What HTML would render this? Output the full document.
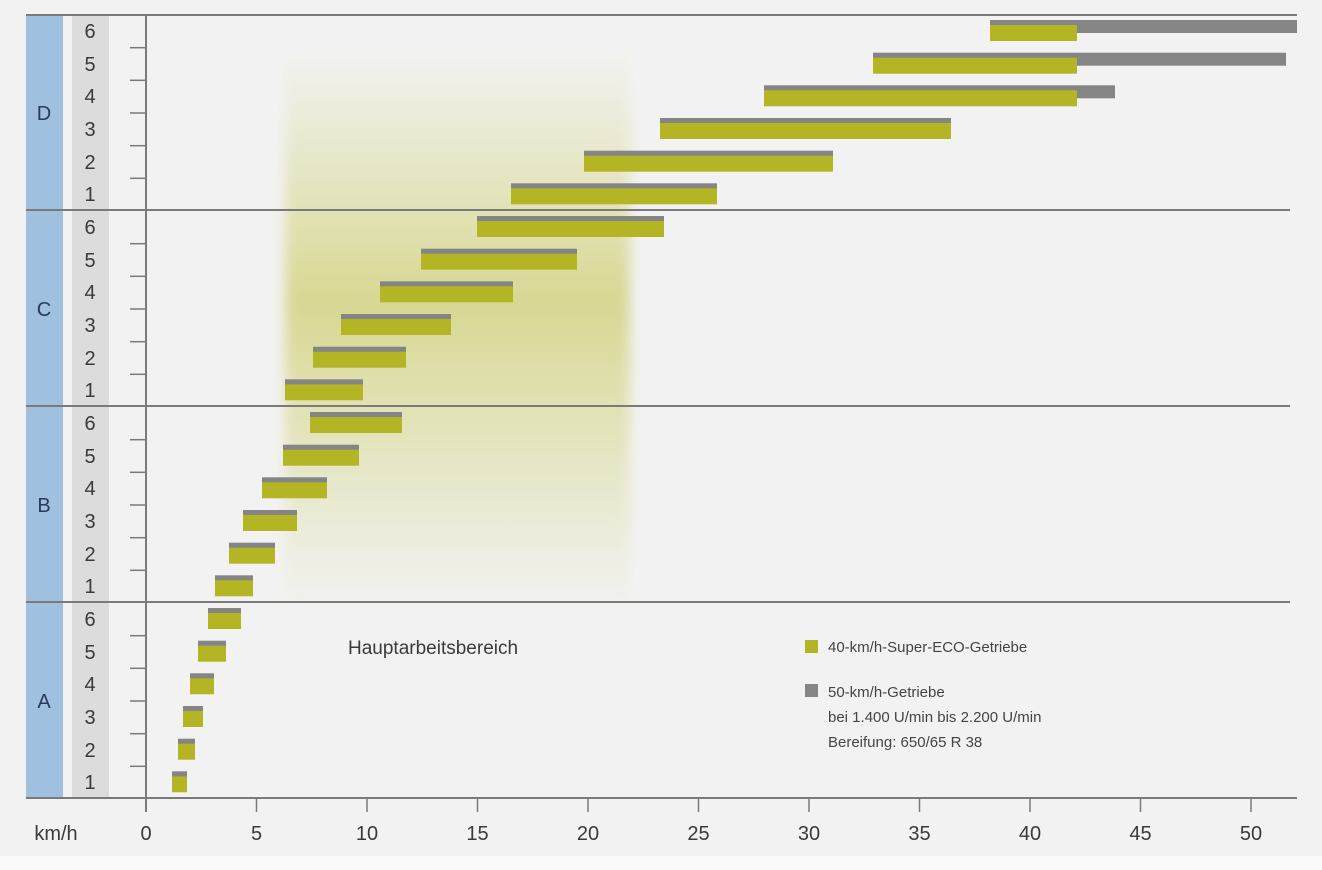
<!DOCTYPE html>
<html><head><meta charset="utf-8"><style>
html,body{margin:0;padding:0;background:#f2f2f2;}
svg{display:block;font-family:"Liberation Sans",sans-serif;}
.g{transform:translateY(-2px);}
</style></head><body>
<svg width="1322" height="870" viewBox="0 0 1322 870" xmlns="http://www.w3.org/2000/svg">
<defs>
<linearGradient id="hv" x1="0" y1="0" x2="0" y2="1">
<stop offset="0" stop-color="#c8c850" stop-opacity="0"/>
<stop offset="0.45" stop-color="#c2c244" stop-opacity="0.55"/>
<stop offset="1" stop-color="#c8c850" stop-opacity="0"/>
</linearGradient>
<filter id="bl" x="-20%" y="-20%" width="140%" height="140%"><feGaussianBlur stdDeviation="6"/></filter>
</defs>
<rect width="1322" height="870" fill="#f2f2f2"/>
<rect x="0" y="856" width="1322" height="14" fill="#fafafa"/>
<rect x="285" y="50" width="345" height="560" fill="url(#hv)" filter="url(#bl)"/>
<rect x="26" y="15" width="37" height="783" fill="#9fc0df"/>
<rect x="72" y="15" width="37" height="783" fill="#dcdcdc"/>
<g stroke="#7a7a7a" stroke-width="2">
<line x1="26" y1="15" x2="1297" y2="15"/>
<line x1="26" y1="210" x2="1290" y2="210"/>
<line x1="26" y1="406" x2="1290" y2="406"/>
<line x1="26" y1="602" x2="1290" y2="602"/>
<line x1="26" y1="798" x2="1297" y2="798"/>
<line x1="146" y1="15" x2="146" y2="812"/>
</g>
<g stroke="#7a7a7a" stroke-width="1.5">
<line x1="130" y1="47.7" x2="146" y2="47.7"/><line x1="130" y1="80.3" x2="146" y2="80.3"/><line x1="130" y1="113" x2="146" y2="113"/><line x1="130" y1="145.7" x2="146" y2="145.7"/><line x1="130" y1="178.3" x2="146" y2="178.3"/>
<line x1="130" y1="243.7" x2="146" y2="243.7"/><line x1="130" y1="276.3" x2="146" y2="276.3"/><line x1="130" y1="309" x2="146" y2="309"/><line x1="130" y1="341.7" x2="146" y2="341.7"/><line x1="130" y1="374.3" x2="146" y2="374.3"/>
<line x1="130" y1="439.7" x2="146" y2="439.7"/><line x1="130" y1="472.3" x2="146" y2="472.3"/><line x1="130" y1="505" x2="146" y2="505"/><line x1="130" y1="537.7" x2="146" y2="537.7"/><line x1="130" y1="570.3" x2="146" y2="570.3"/>
<line x1="130" y1="635.7" x2="146" y2="635.7"/><line x1="130" y1="668.3" x2="146" y2="668.3"/><line x1="130" y1="701" x2="146" y2="701"/><line x1="130" y1="733.7" x2="146" y2="733.7"/><line x1="130" y1="766.3" x2="146" y2="766.3"/>
<line x1="256.5" y1="798" x2="256.5" y2="812"/><line x1="367" y1="798" x2="367" y2="812"/><line x1="477.5" y1="798" x2="477.5" y2="812"/><line x1="588" y1="798" x2="588" y2="812"/><line x1="698.5" y1="798" x2="698.5" y2="812"/><line x1="809" y1="798" x2="809" y2="812"/><line x1="919.5" y1="798" x2="919.5" y2="812"/><line x1="1030" y1="798" x2="1030" y2="812"/><line x1="1140.5" y1="798" x2="1140.5" y2="812"/><line x1="1251" y1="798" x2="1251" y2="812"/>
</g>
<g fill="#3a3a3a" font-size="20" text-anchor="middle">
<text x="90" y="38">6</text><text x="90" y="71">5</text><text x="90" y="103">4</text><text x="90" y="136">3</text><text x="90" y="169">2</text><text x="90" y="201">1</text>
<text x="90" y="234">6</text><text x="90" y="267">5</text><text x="90" y="299">4</text><text x="90" y="332">3</text><text x="90" y="365">2</text><text x="90" y="397">1</text>
<text x="90" y="430">6</text><text x="90" y="463">5</text><text x="90" y="495">4</text><text x="90" y="528">3</text><text x="90" y="561">2</text><text x="90" y="593">1</text>
<text x="90" y="626">6</text><text x="90" y="659">5</text><text x="90" y="691">4</text><text x="90" y="724">3</text><text x="90" y="757">2</text><text x="90" y="789">1</text>
</g>
<g fill="#2a3a5a" font-size="20" text-anchor="middle">
<text x="44" y="120">D</text><text x="44" y="316">C</text><text x="44" y="512">B</text><text x="44" y="708">A</text>
</g>
<g fill="#3a3a3a" font-size="20" text-anchor="middle">
<text x="56" y="840">km/h</text>
<text x="146" y="840">0</text><text x="256.5" y="840">5</text><text x="367" y="840">10</text><text x="477.5" y="840">15</text><text x="588" y="840">20</text><text x="698.5" y="840">25</text><text x="809" y="840">30</text><text x="919.5" y="840">35</text><text x="1030" y="840">40</text><text x="1140.5" y="840">45</text><text x="1251" y="840">50</text>
</g>
<g>
<rect class="g" x="990" y="22" width="307" height="13" fill="#858585"/><rect x="990" y="25" width="87" height="16" fill="#b4b524"/>
<rect class="g" x="873" y="54.7" width="413" height="13" fill="#858585"/><rect x="873" y="57.7" width="204" height="16" fill="#b4b524"/>
<rect class="g" x="764" y="87.3" width="351" height="13" fill="#858585"/><rect x="764" y="90.3" width="313" height="16" fill="#b4b524"/>
<rect class="g" x="660" y="120" width="291" height="13" fill="#858585"/><rect x="660" y="123" width="291" height="16" fill="#b4b524"/>
<rect class="g" x="584" y="152.7" width="249" height="13" fill="#858585"/><rect x="584" y="155.7" width="249" height="16" fill="#b4b524"/>
<rect class="g" x="511" y="185.3" width="206" height="13" fill="#858585"/><rect x="511" y="188.3" width="206" height="16" fill="#b4b524"/>

<rect class="g" x="477" y="218" width="187" height="13" fill="#858585"/><rect x="477" y="221" width="187" height="16" fill="#b4b524"/>
<rect class="g" x="421" y="250.7" width="156" height="13" fill="#858585"/><rect x="421" y="253.7" width="156" height="16" fill="#b4b524"/>
<rect class="g" x="380" y="283.3" width="133" height="13" fill="#858585"/><rect x="380" y="286.3" width="133" height="16" fill="#b4b524"/>
<rect class="g" x="341" y="316" width="110" height="13" fill="#858585"/><rect x="341" y="319" width="110" height="16" fill="#b4b524"/>
<rect class="g" x="313" y="348.7" width="93" height="13" fill="#858585"/><rect x="313" y="351.7" width="93" height="16" fill="#b4b524"/>
<rect class="g" x="285" y="381.3" width="78" height="13" fill="#858585"/><rect x="285" y="384.3" width="78" height="16" fill="#b4b524"/>

<rect class="g" x="310" y="414" width="92" height="13" fill="#858585"/><rect x="310" y="417" width="92" height="16" fill="#b4b524"/>
<rect class="g" x="283" y="446.7" width="76" height="13" fill="#858585"/><rect x="283" y="449.7" width="76" height="16" fill="#b4b524"/>
<rect class="g" x="262" y="479.3" width="65" height="13" fill="#858585"/><rect x="262" y="482.3" width="65" height="16" fill="#b4b524"/>
<rect class="g" x="243" y="512" width="54" height="13" fill="#858585"/><rect x="243" y="515" width="54" height="16" fill="#b4b524"/>
<rect class="g" x="229" y="544.7" width="46" height="13" fill="#858585"/><rect x="229" y="547.7" width="46" height="16" fill="#b4b524"/>
<rect class="g" x="215" y="577.3" width="38" height="13" fill="#858585"/><rect x="215" y="580.3" width="38" height="16" fill="#b4b524"/>

<rect class="g" x="208" y="610" width="33" height="13" fill="#858585"/><rect x="208" y="613" width="33" height="16" fill="#b4b524"/>
<rect class="g" x="198" y="642.7" width="28" height="13" fill="#858585"/><rect x="198" y="645.7" width="28" height="16" fill="#b4b524"/>
<rect class="g" x="190" y="675.3" width="24" height="13" fill="#858585"/><rect x="190" y="678.3" width="24" height="16" fill="#b4b524"/>
<rect class="g" x="183" y="708" width="20" height="13" fill="#858585"/><rect x="183" y="711" width="20" height="16" fill="#b4b524"/>
<rect class="g" x="178" y="740.7" width="17" height="13" fill="#858585"/><rect x="178" y="743.7" width="17" height="16" fill="#b4b524"/>
<rect class="g" x="172" y="773.3" width="15" height="13" fill="#858585"/><rect x="172" y="776.3" width="15" height="16" fill="#b4b524"/>
</g>
<text x="348" y="654" font-size="19" fill="#3a3a3a">Hauptarbeitsbereich</text>
<rect x="805" y="640" width="13" height="13" fill="#b4b524"/>
<rect x="805" y="684" width="13" height="13" fill="#858585"/>
<g font-size="15" fill="#444">
<text x="828" y="652">40-km/h-Super-ECO-Getriebe</text>
<text x="828" y="697">50-km/h-Getriebe</text>
<text x="828" y="722">bei 1.400 U/min bis 2.200 U/min</text>
<text x="828" y="747">Bereifung: 650/65 R 38</text>
</g>
</svg>
</body></html>
